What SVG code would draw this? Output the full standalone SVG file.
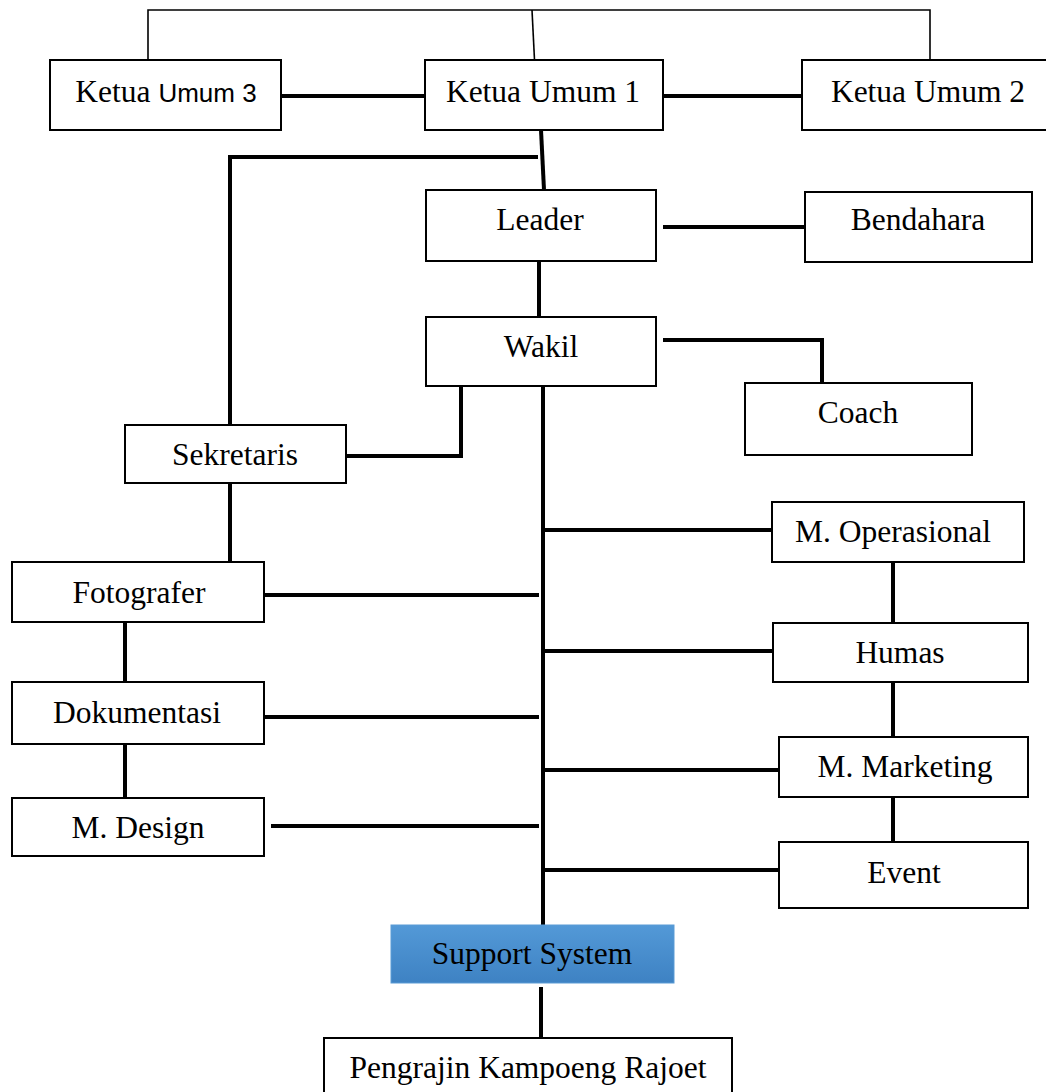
<svg xmlns="http://www.w3.org/2000/svg" width="1046" height="1092" viewBox="0 0 1046 1092">
<style>
.box{fill:#fff;stroke:#000;stroke-width:2}
.t{font-family:"Liberation Serif","Times New Roman",serif;font-size:31.5px;fill:#000;text-anchor:middle}
.c{fill:none;stroke:#000;stroke-width:4}
.thin{fill:none;stroke:#000;stroke-width:1.6}
</style>
<defs>
<linearGradient id="blue" x1="0" y1="0" x2="0" y2="1">
<stop offset="0" stop-color="#5399d7"/>
<stop offset="1" stop-color="#3e82c3"/>
</linearGradient>
</defs>
<rect width="1046" height="1092" fill="#fff"/>
<g id="connectors">
<polyline class="thin" points="148,60 148,10 930,10 930,62"/>
<line class="thin" x1="532" y1="10" x2="534.5" y2="60"/>
<line class="c" x1="282" y1="96" x2="425" y2="96"/>
<line class="c" x1="663" y1="96" x2="802" y2="96"/>
<line class="c" x1="541" y1="130" x2="544" y2="190"/>
<polyline class="c" points="538,157 230,157 230,425"/>
<line class="c" x1="663" y1="227" x2="805" y2="227"/>
<line class="c" x1="539" y1="261" x2="539" y2="317"/>
<polyline class="c" points="663,340 822,340 822,383"/>
<polyline class="c" points="346,456 461,456 461,386"/>
<line class="c" x1="543" y1="386" x2="543" y2="925"/>
<line class="c" x1="541" y1="530" x2="772" y2="530"/>
<line class="c" x1="543" y1="651" x2="773" y2="651"/>
<line class="c" x1="543" y1="770" x2="779" y2="770"/>
<line class="c" x1="543" y1="870" x2="779" y2="870"/>
<line class="c" x1="264" y1="595" x2="539" y2="595"/>
<line class="c" x1="264" y1="717" x2="539" y2="717"/>
<line class="c" x1="271" y1="826" x2="539" y2="826"/>
<line class="c" x1="230" y1="483" x2="230" y2="562"/>
<line class="c" x1="125" y1="622" x2="125" y2="682"/>
<line class="c" x1="125" y1="744" x2="125" y2="805"/>
<line class="c" x1="893" y1="562" x2="893" y2="623"/>
<line class="c" x1="893" y1="682" x2="893" y2="737"/>
<line class="c" x1="893" y1="797" x2="893" y2="842"/>
<line class="c" x1="541" y1="987" x2="541" y2="1038"/>
</g>
<g id="ketua3"><rect class="box" x="50" y="60" width="231" height="70"/><text class="t" x="166" y="102">Ketua <tspan font-family="'Liberation Sans',Arial,sans-serif" font-size="26px">Umum 3</tspan></text></g>
<g id="ketua1"><rect class="box" x="425" y="60" width="238" height="70"/><text class="t" x="543" y="102">Ketua Umum 1</text></g>
<g id="ketua2"><rect class="box" x="802" y="60" width="250" height="70"/><text class="t" x="928" y="102">Ketua Umum 2</text></g>
<g id="leader"><rect class="box" x="426" y="190" width="230" height="71"/><text class="t" x="540" y="230">Leader</text></g>
<g id="bendahara"><rect class="box" x="805" y="192" width="227" height="70"/><text class="t" x="918" y="230">Bendahara</text></g>
<g id="wakil"><rect class="box" x="426" y="317" width="230" height="69"/><text class="t" x="541" y="357">Wakil</text></g>
<g id="coach"><rect class="box" x="745" y="383" width="227" height="72"/><text class="t" x="858" y="423">Coach</text></g>
<g id="sekretaris"><rect class="box" x="125" y="425" width="221" height="58"/><text class="t" x="235" y="465">Sekretaris</text></g>
<g id="fotografer"><rect class="box" x="12" y="562" width="252" height="60"/><text class="t" x="139" y="603">Fotografer</text></g>
<g id="dokumentasi"><rect class="box" x="12" y="682" width="252" height="62"/><text class="t" x="137" y="723">Dokumentasi</text></g>
<g id="mdesign"><rect class="box" x="12" y="798" width="252" height="58"/><text class="t" x="138" y="838">M. Design</text></g>
<g id="moperasional"><rect class="box" x="772" y="502" width="252" height="60"/><text class="t" x="893" y="542">M. Operasional</text></g>
<g id="humas"><rect class="box" x="773" y="623" width="255" height="59"/><text class="t" x="900" y="663">Humas</text></g>
<g id="mmarketing"><rect class="box" x="779" y="737" width="249" height="60"/><text class="t" x="905" y="777">M. Marketing</text></g>
<g id="event"><rect class="box" x="779" y="842" width="249" height="66"/><text class="t" x="904" y="883">Event</text></g>
<g id="support"><rect x="391" y="925" width="283" height="58" fill="url(#blue)" stroke="#5b9bd5" stroke-width="1"/><text class="t" x="532" y="964">Support System</text></g>
<g id="pengrajin"><rect class="box" x="324" y="1038" width="408" height="70"/><text class="t" x="528" y="1078">Pengrajin Kampoeng Rajoet</text></g>
</svg>
